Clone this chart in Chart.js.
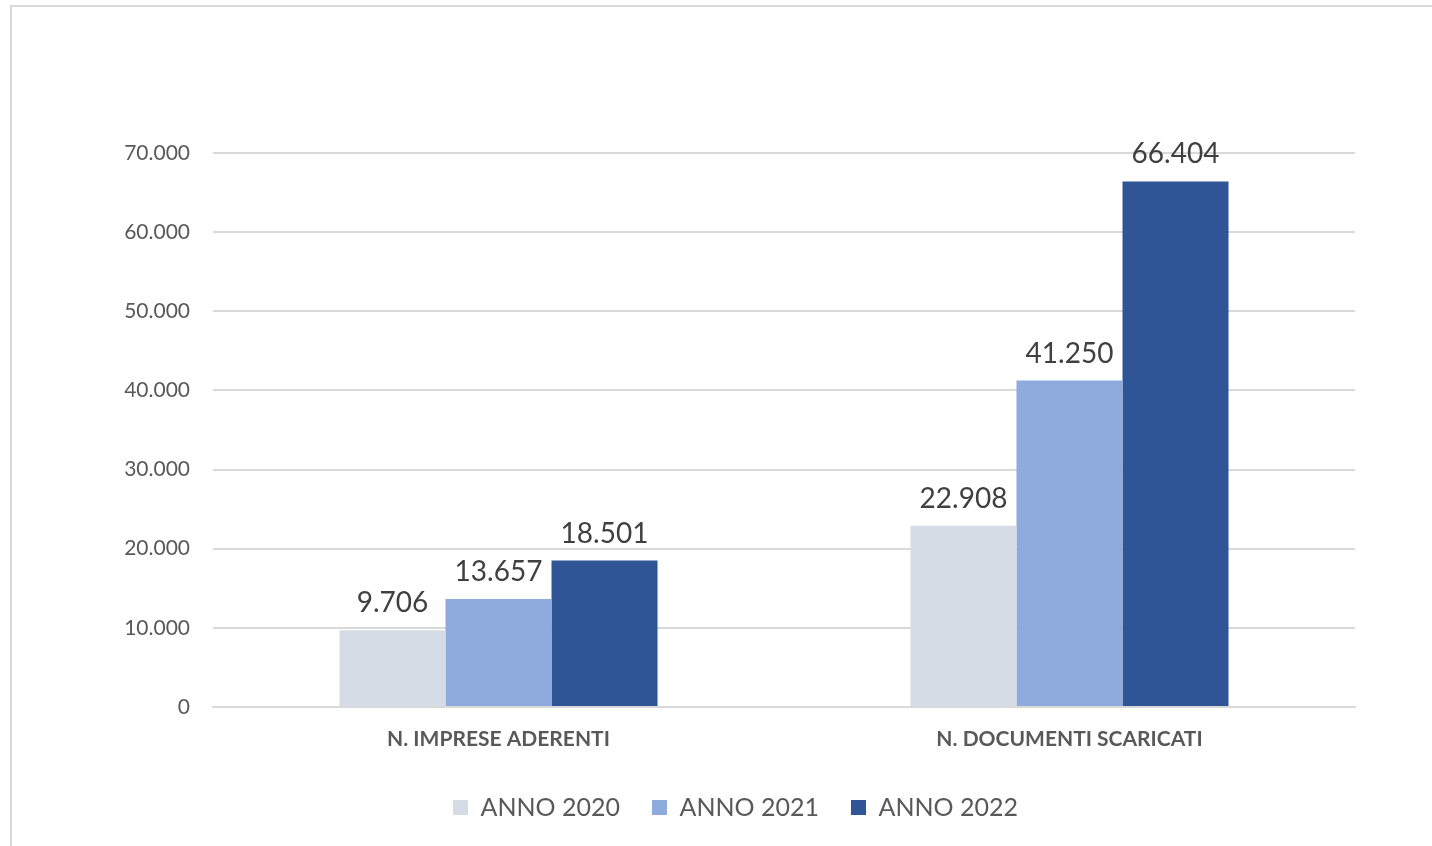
<!DOCTYPE html>
<html>
<head>
<meta charset="utf-8">
<script src="https://cdn.jsdelivr.net/npm/chart.js@4/dist/chart.umd.min.js"></script>
<style>
  html, body { margin: 0; padding: 0; background: #fff; }
  #frame { position: absolute; left: 10px; top: 5px; width: 1440px; height: 860px; border: 2px solid #D9D9D9; box-sizing: border-box; }
  #wrap { position: absolute; left: 0; top: 0; width: 1432px; height: 846px; }
</style>
</head>
<body>
<div id="frame"></div>
<div id="wrap"><canvas id="chart"></canvas></div>
<script>
var categories = ['N. IMPRESE ADERENTI', 'N. DOCUMENTI SCARICATI'];
var seriesNames = ['ANNO 2020', 'ANNO 2021', 'ANNO 2022'];
var anno2020 = [9706, 22908];
var anno2021 = [13657, 41250];
var anno2022 = [18501, 66404];
var colors = ['#D6DCE5', '#8FAADC', '#2F5597'];
var yTicks = [0, 10000, 20000, 30000, 40000, 50000, 60000, 70000];

var FONT = 'Lato, "Open Sans", sans-serif';

function fmt(v) {
    return v.toString().replace(/\B(?=(\d{3})+(?!\d))/g, '.');
}

// draw the value above each bar
var valueLabels = {
    id: 'valueLabels',
    afterDatasetsDraw: function(chart) {
        var ctx = chart.ctx;
        ctx.save();
        ctx.font = '28px ' + FONT;
        ctx.fillStyle = '#404040';
        ctx.textAlign = 'center';
        ctx.textBaseline = 'bottom';
        chart.data.datasets.forEach(function(ds, i) {
            chart.getDatasetMeta(i).data.forEach(function(bar, j) {
                ctx.fillText(fmt(ds.data[j]), bar.x, bar.y - 13);
            });
        });
        ctx.restore();
    }
};

// legend in the original sits a bit right of the canvas centre
var legendShift = {
    id: 'legendShift',
    afterLayout: function(chart) {
        chart.legend.left += 58;
        chart.legend.right += 58;
    }
};

var ctx = document.getElementById('chart').getContext('2d');
new Chart(ctx, {
    type: 'bar',
    data: {
        labels: categories,
        datasets: [
            { label: seriesNames[0], data: anno2020, backgroundColor: colors[0] },
            { label: seriesNames[1], data: anno2021, backgroundColor: colors[1] },
            { label: seriesNames[2], data: anno2022, backgroundColor: colors[2] }
        ]
    },
    options: {
        responsive: true,
        maintainAspectRatio: false,
        animation: false,
        layout: { padding: { top: 153, right: 77, left: 0, bottom: 16 } },
        datasets: { bar: { barPercentage: 1, categoryPercentage: 0.557 } },
        plugins: {
            tooltip: { enabled: false },
            legend: {
                position: 'bottom',
                labels: {
                    color: '#595959',
                    font: { size: 25, family: FONT },
                    boxWidth: 15,
                    boxHeight: 15,
                    padding: 32
                }
            }
        },
        scales: {
            x: {
                grid: { display: false, drawTicks: false },
                border: { display: true, color: '#D9D9D9', width: 2 },
                ticks: {
                    color: '#595959',
                    padding: 20,
                    font: { size: 21, weight: 'bold', family: FONT }
                },
                afterFit: function(scale) { scale.height = 56; }
            },
            y: {
                min: 0,
                max: 70000,
                afterBuildTicks: function(scale) {
                    scale.ticks = yTicks.map(function(v) { return { value: v }; });
                },
                grid: { color: '#D9D9D9', lineWidth: 2, drawTicks: false },
                border: { display: false },
                ticks: {
                    color: '#595959',
                    padding: 23,
                    font: { size: 21, family: FONT },
                    callback: function(v) { return fmt(v); }
                },
                afterFit: function(scale) { scale.width = 213; }
            }
        }
    },
    plugins: [valueLabels, legendShift]
});
</script>
</body>
</html>
